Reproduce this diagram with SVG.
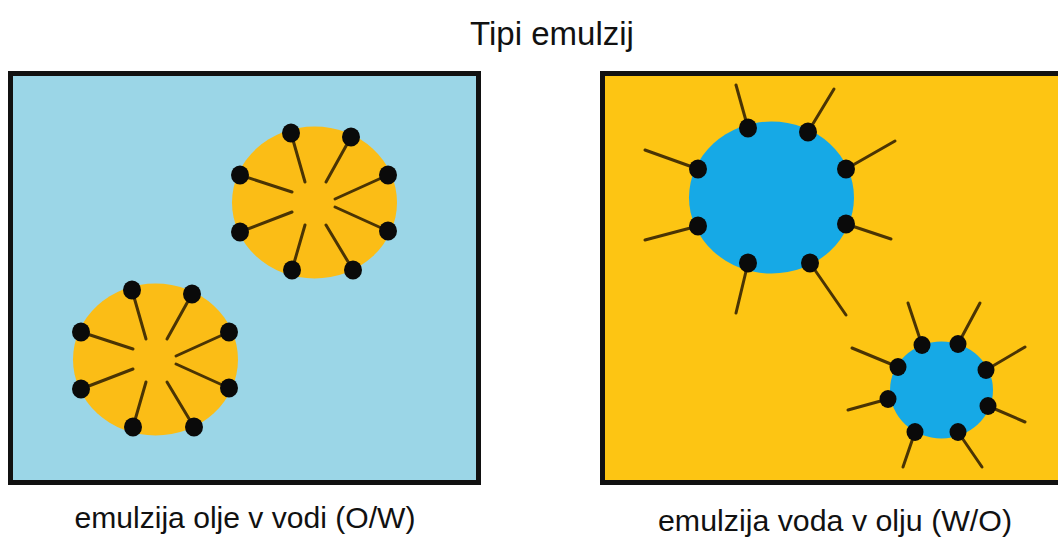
<svg xmlns="http://www.w3.org/2000/svg" width="1058" height="537" viewBox="0 0 1058 537">
  <style>
    .frame { stroke: #111; stroke-width: 5; }
    .oil { fill: #fbbd16; }
    .water { fill: #16a9e6; }
    .tail { stroke: #4a3404; stroke-width: 3; stroke-linecap: round; fill: none; }
    .head { fill: #0a0a0a; }
    .label { font-family: "Liberation Sans", Arial, sans-serif; fill: #111; }
  </style>
  <defs>
    <!-- oil droplet in water: heads on the surface, tails pointing inward -->
    <g id="oilDrop">
      <ellipse class="oil" cx="314.5" cy="202.5" rx="82.5" ry="76"/>
      <g class="tail">
        <line x1="291" y1="133" x2="305" y2="182"/>
        <line x1="351" y1="137" x2="326" y2="182"/>
        <line x1="240" y1="175" x2="292" y2="192"/>
        <line x1="388" y1="175" x2="335" y2="199"/>
        <line x1="240" y1="232" x2="292" y2="212"/>
        <line x1="388" y1="231" x2="335" y2="207"/>
        <line x1="292" y1="270" x2="305" y2="225"/>
        <line x1="353" y1="270" x2="326" y2="225"/>
      </g>
      <g class="head">
        <ellipse cx="291" cy="133" rx="9" ry="9.5"/>
        <ellipse cx="351" cy="137" rx="9" ry="9.5"/>
        <ellipse cx="240" cy="175" rx="9" ry="9.5"/>
        <ellipse cx="388" cy="175" rx="9" ry="9.5"/>
        <ellipse cx="240" cy="232" rx="9" ry="9.5"/>
        <ellipse cx="388" cy="231" rx="9" ry="9.5"/>
        <ellipse cx="292" cy="270" rx="9" ry="9.5"/>
        <ellipse cx="353" cy="270" rx="9" ry="9.5"/>
      </g>
    </g>
  </defs>

  <rect width="1058" height="537" fill="#ffffff"/>

  <text class="label" x="552" y="45" font-size="33" text-anchor="middle">Tipi emulzij</text>

  <!-- oil-in-water panel -->
  <g id="panel-ow">
    <rect class="frame" x="10.5" y="73.5" width="468" height="409" fill="#9bd6e7"/>
    <g id="drop-ow-1"><use href="#oilDrop"/></g>
    <g id="drop-ow-2"><use href="#oilDrop" transform="translate(-159 157)"/></g>
  </g>

  <!-- water-in-oil panel -->
  <g id="panel-wo">
    <rect class="frame" x="602.5" y="73.5" width="470" height="409" fill="#fdc513"/>

    <g id="drop-wo-1">
      <ellipse class="water" cx="771.5" cy="197.5" rx="82.5" ry="76"/>
      <g class="tail">
        <line x1="748" y1="128" x2="736" y2="85"/>
        <line x1="808" y1="132" x2="834" y2="89"/>
        <line x1="698" y1="169" x2="645" y2="150"/>
        <line x1="846" y1="169" x2="895" y2="141"/>
        <line x1="698" y1="226" x2="645" y2="240"/>
        <line x1="846" y1="224" x2="891" y2="239"/>
        <line x1="748" y1="263" x2="736" y2="313"/>
        <line x1="810" y1="263" x2="846" y2="315"/>
      </g>
      <g class="head">
        <ellipse cx="748" cy="128" rx="9" ry="9.5"/>
        <ellipse cx="808" cy="132" rx="9" ry="9.5"/>
        <ellipse cx="698" cy="169" rx="9" ry="9.5"/>
        <ellipse cx="846" cy="169" rx="9" ry="9.5"/>
        <ellipse cx="698" cy="226" rx="9" ry="9.5"/>
        <ellipse cx="846" cy="224" rx="9" ry="9.5"/>
        <ellipse cx="748" cy="263" rx="9" ry="9.5"/>
        <ellipse cx="810" cy="263" rx="9" ry="9.5"/>
      </g>
    </g>

    <g id="drop-wo-2">
      <ellipse class="water" cx="941.5" cy="390" rx="51.5" ry="48.5"/>
      <g class="tail">
        <line x1="922" y1="345" x2="908" y2="303"/>
        <line x1="958" y1="344" x2="980" y2="303"/>
        <line x1="898" y1="367" x2="852" y2="348"/>
        <line x1="986" y1="370" x2="1025" y2="347"/>
        <line x1="888" y1="399" x2="848" y2="410"/>
        <line x1="988" y1="406" x2="1025" y2="422"/>
        <line x1="915" y1="432" x2="903" y2="467"/>
        <line x1="958" y1="432" x2="982" y2="467"/>
      </g>
      <g class="head">
        <ellipse cx="922" cy="345" rx="8.5" ry="9"/>
        <ellipse cx="958" cy="344" rx="8.5" ry="9"/>
        <ellipse cx="898" cy="367" rx="8.5" ry="9"/>
        <ellipse cx="986" cy="370" rx="8.5" ry="9"/>
        <ellipse cx="888" cy="399" rx="8.5" ry="9"/>
        <ellipse cx="988" cy="406" rx="8.5" ry="9"/>
        <ellipse cx="915" cy="432" rx="8.5" ry="9"/>
        <ellipse cx="958" cy="432" rx="8.5" ry="9"/>
      </g>
    </g>
  </g>

  <text class="label" x="245" y="528" font-size="29" text-anchor="middle" textLength="341" lengthAdjust="spacingAndGlyphs">emulzija olje v vodi (O/W)</text>
  <text class="label" x="835" y="531" font-size="29" text-anchor="middle" textLength="354" lengthAdjust="spacingAndGlyphs">emulzija voda v olju (W/O)</text>
</svg>
